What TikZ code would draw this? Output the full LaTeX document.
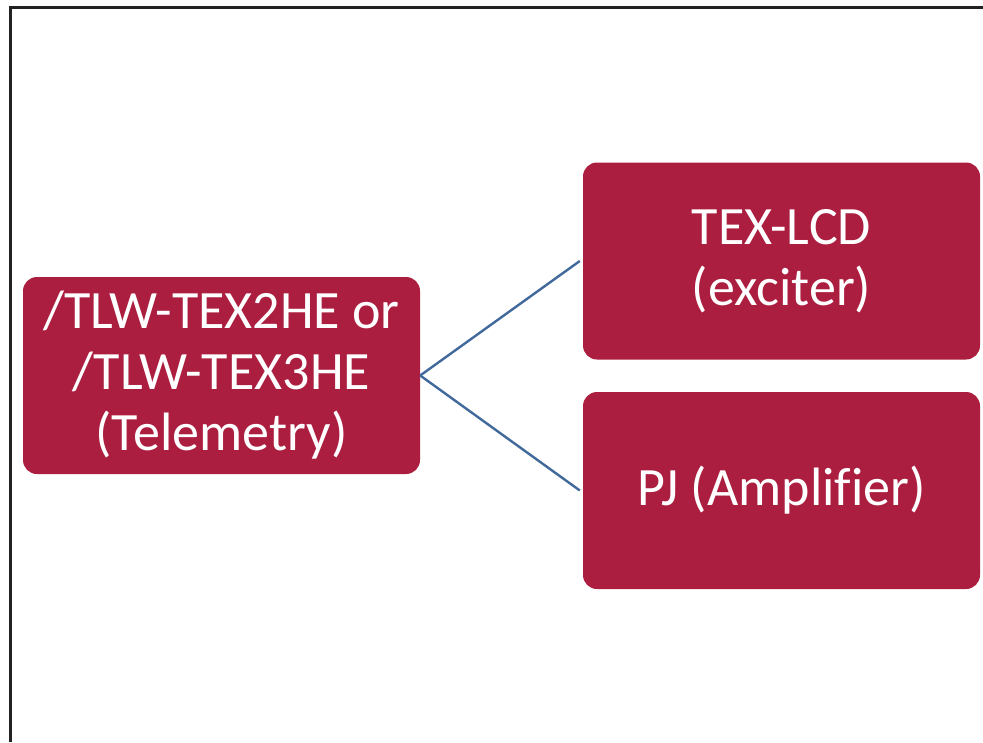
\documentclass[tikz,border=0pt]{standalone}
\usepackage{fontspec}
\setmainfont{Carlito}[Ligatures=NoCommon]
\definecolor{boxred}{HTML}{AC1E40}
\definecolor{linkblue}{HTML}{41699B}
\definecolor{framegray}{HTML}{222222}
\begin{document}
\begin{tikzpicture}[x=1pt,y=-1pt,
  unit/.style={draw=none, fill=boxred, rounded corners=14pt, text=white,
    align=center, inner sep=0pt, minimum width=397pt, minimum height=197pt,
    font=\fontsize{54}{61}\selectfont},
  link/.style={draw=linkblue, line width=2.4pt}]
\useasboundingbox (0,0) rectangle (983,742);
% open frame: left and top edges
\draw[framegray, line width=3pt] (10,742) -- (10,7) -- (983,7);
% blocks
\node[unit] (tel) at (221.5,375.5) {/TLW-TEX2HE or\\/TLW-TEX3HE\\(Telemetry)};
\node[unit] (exc) at (781.5,261) {TEX-LCD\\(exciter)};
\node[unit] (amp) at (781.5,490.5) {PJ (Amplifier)};
% connectors
\coordinate (excend) at ([xshift=-3pt]exc.west);
\coordinate (ampend) at ([xshift=-3pt]amp.west);
\draw[link] (tel.east) -- (excend);
\draw[link] (tel.east) -- (ampend);
\end{tikzpicture}
\end{document}
